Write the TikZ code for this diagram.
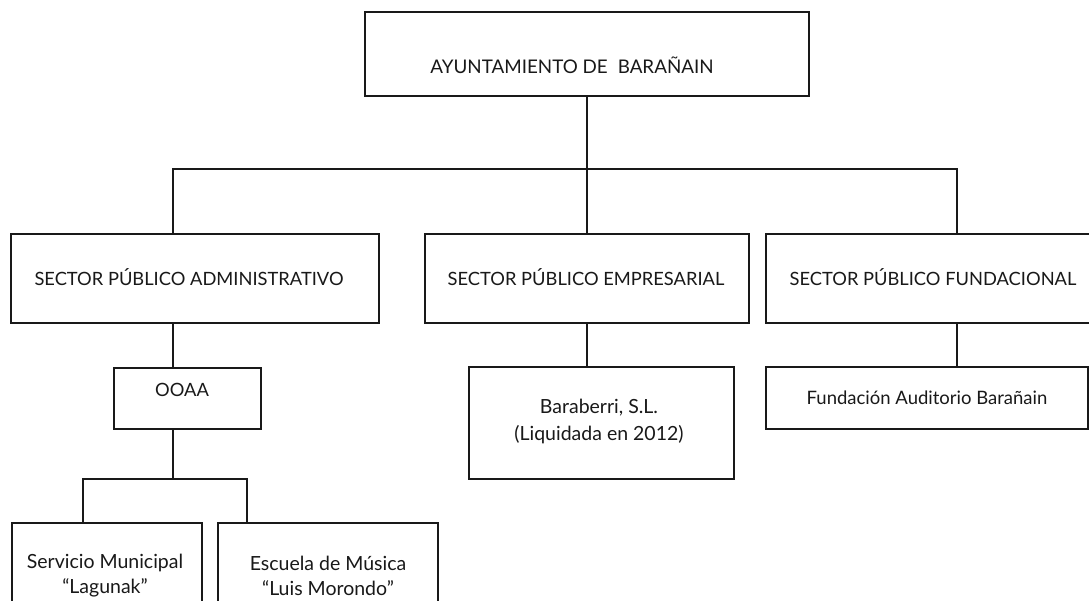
\documentclass[tikz,border=0pt]{standalone}
\usepackage{fontspec}
\setmainfont{Lato}
\begin{document}
\begin{tikzpicture}[x=1pt,y=-1pt,
  box/.style={draw=black!90, line width=1.5pt, rectangle, inner sep=0pt, fill=white},
  txt/.style={font=\fontsize{18.3}{27}\selectfont, align=center, inner sep=0pt, text=black!90},
  ttxt/.style={font=\fontsize{18.8}{27}\selectfont, align=center, inner sep=0pt, text=black!90},
  btxt/.style={font=\fontsize{19.5}{27}\selectfont, align=center, inner sep=0pt, text=black!90},
  stxt/.style={font=\fontsize{18.5}{25}\selectfont, align=center, inner sep=0pt, text=black!90},
  ltxt/.style={font=\fontsize{19.5}{25}\selectfont, align=center, inner sep=0pt, text=black!90},
  conn/.style={draw=black!90, line width=1.5pt}]
\useasboundingbox (0,0) rectangle (1089,600);
% boxes
\node[box, minimum width=444pt, minimum height=84pt] (top) at (587,54) {};
\node[ttxt] (toptext) at (572,65) {AYUNTAMIENTO DE\hspace{10pt}BARAÑAIN};
\node[box, minimum width=368pt, minimum height=89pt] (spa) at (195,278.5) {};
\node[txt] (spatext) at (189,277) {SECTOR PÚBLICO ADMINISTRATIVO};
\node[box, minimum width=324pt, minimum height=89pt] (spe) at (587,278.5) {};
\node[txt] (spetext) at (586,277) {SECTOR PÚBLICO EMPRESARIAL};
\node[box, minimum width=326pt, minimum height=89pt] (spf) at (929,278.5) {};
\node[txt] (spftext) at (933,277) {SECTOR PÚBLICO FUNDACIONAL};
\node[box, minimum width=147pt, minimum height=61pt] (ooaa) at (187.5,398.5) {};
\node[txt] (ooaatext) at (182,390) {OOAA};
\node[box, minimum width=265pt, minimum height=112pt] (bar) at (601.5,423) {};
\node[btxt] (bartext) at (599,421) {Baraberri, S.L.\\(Liquidada en 2012)};
\node[box, minimum width=322pt, minimum height=62pt] (fund) at (927,398) {};
\node[stxt] (fundtext) at (927,398) {Fundación Auditorio Barañain};
\node[box, minimum width=190pt, minimum height=105pt] (sm) at (107,575.5) {};
\node[ltxt] (smtext) at (105,575.5) {Servicio Municipal\\“Lagunak”};
\node[box, minimum width=220pt, minimum height=105pt] (esc) at (328,575.5) {};
\node[ltxt] (esctext) at (328,575.5) {Escuela de Música\\“Luis Morondo”};
% connector coordinates
\coordinate (busL) at (173,169);
\coordinate (busR) at (957,169);
\coordinate (lbus) at (173,479);
\coordinate (lbusL) at (83,479);
\coordinate (lbusR) at (247,479);
% connectors
\draw[conn] (top.south) -- (top.south |- busL);
\draw[conn] (busL |- spa.north) -- (busL) -- (busR) -- (busR |- spf.north);
\draw[conn] (top.south |- busL) -- (spe.north);
\draw[conn] (spa.south -| busL) -- (ooaa.north -| busL);
\draw[conn] (ooaa.south -| busL) -- (lbus);
\draw[conn] (sm.north -| lbusL) -- (lbusL) -- (lbusR) -- (esc.north -| lbusR);
\draw[conn] (spe.south) -- (spe.south |- bar.north);
\draw[conn] (spf.south -| busR) -- (fund.north -| busR);
\end{tikzpicture}
\end{document}
